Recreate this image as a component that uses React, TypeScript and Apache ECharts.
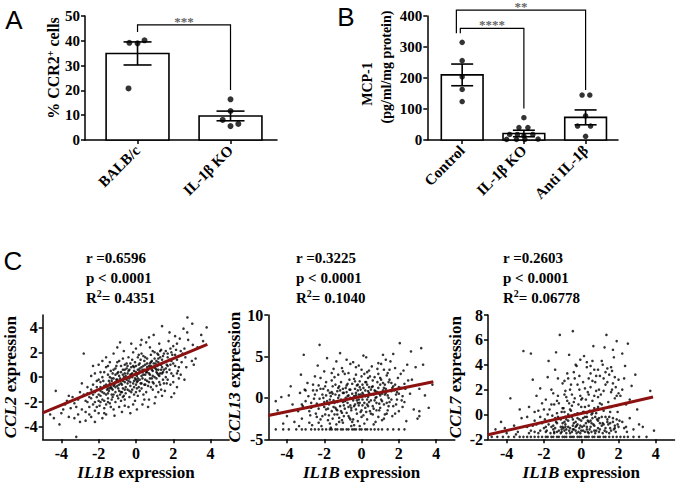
import React, { useEffect, useRef } from 'react';
import * as echarts from 'echarts';

const SERIF = 'Liberation Serif, Times New Roman, serif';
const SANS = 'Liberation Sans, Arial, sans-serif';

// ---------- Panel A ----------
const catA = ['BALB/c', 'IL-1β KO'];
const meanA = [34.9, 9.7];
const semA = [4.65, 1.95];
const dotsA = [[39.2, 39.0, 40.2, 20.8], [16.4, 11.7, 8.1, 5.6, 6.5]];
const jitterA = [[-0.088, 0, 0.075, -0.097], [0, 0, -0.084, 0, 0.084]];
const sigA = [{ from: 0, to: 1, shift: 0, top: 46.4, leftEnd: 43.5, rightEnd: 20.2, text: '***' }];

// ---------- Panel B ----------
const catB = ['Control', 'IL-1β KO', 'Anti IL-1β'];
const meanB = [210, 21, 73];
const semB = [35, 10.5, 24];
const dotsB = [
  [315, 256, 204, 163, 124],
  [72, 40, 40, 18, 18, 13, 18, 2, 2, 2, 3],
  [145, 145, 78, 45, 45, 12],
];
const jitterB = [
  [0, 0, 0, 0, 0],
  [0, -0.08, 0.065, -0.23, -0.105, 0, 0.145, -0.28, -0.12, 0.015, 0.23],
  [-0.057, 0.068, 0, -0.13, 0.08, 0],
];
const sigB = [
  { from: 0, to: 2, shift: -0.094, top: 419, leftEnd: 344, rightEnd: 161, text: '**' },
  { from: 0, to: 1, shift: -0.03, top: 360, leftEnd: 344, rightEnd: 102, text: '****' },
];

// ---------- Panel C ----------
const xTicksC = [-4, -2, 0, 2, 4];
const statsC = [
  { r: '0.6596', p: '0.0001', r2: '0.4351' },
  { r: '0.3225', p: '0.0001', r2: '0.1040' },
  { r: '0.2603', p: '0.0001', r2: '0.06778' },
];
const geneC = ['CCL2', 'CCL13', 'CCL7'];

const ccl2Points = [
  [-4.3,-1.1],[-4.4,-3.3],[-4.1,-3.8],[-3.9,-2.6],[-3.7,-1.9],[-3.6,-3.2],[-3.8,-2.2],[-4.0,-2.9],[-3.5,-2.5],[-3.6,-1.5],[-4.6,-3.0],
  [-3.2,-4.8],[-3.3,-2.1],[-3.1,-3.0],[-3.0,-1.2],[-2.9,-2.6],[-2.8,1.9],[-2.7,-3.5],[-3.4,-1.6],[-3.2,-2.4],[-2.6,-2.0],[-2.8,-1.4],[-3.0,-3.6],[-2.6,-0.8],[-2.7,-2.8],[-3.3,-3.3],[-2.9,-0.5],[-2.5,-3.0],[-3.1,-1.8],[-2.6,-1.3],[-2.5,-2.4],
  [-2.4,-1.0],[-2.3,-2.2],[-2.2,0.3],[-2.1,-1.6],[-2.0,-2.9],[-2.4,-3.2],[-1.9,-0.4],[-1.8,-1.8],[-2.2,-1.2],[-1.7,-2.5],[-1.6,0.8],[-2.3,-0.6],[-1.9,-1.1],[-2.0,-0.2],[-1.8,-3.3],[-1.6,-1.4],[-2.1,-2.4],[-1.7,-0.7],[-2.4,-1.7],[-1.5,-2.0],
  [-1.6,1.6],[-2.0,1.0],[-1.9,-2.0],[-2.2,-2.7],[-1.8,0.0],[-1.5,-0.9],[-2.3,0.9],[-1.7,-1.3],[-2.1,-0.8],[-1.6,-3.0],[-1.5,0.2],[-1.9,-1.5],[-2.0,-1.9],[-1.8,-0.9],[-1.6,-2.2],[-2.4,0.1],[-1.7,0.4],[-2.2,-3.6],[-1.5,-1.7],[-1.8,1.3],
  [-1.4,-0.5],[-1.3,-1.8],[-1.2,0.6],[-1.1,-1.2],[-1.0,-0.2],[-0.9,-2.4],[-0.8,0.9],[-0.7,-0.9],[-0.6,0.3],[-1.4,1.2],[-1.3,-0.3],[-1.2,-2.6],[-1.1,0.2],[-1.0,-1.5],[-0.9,-0.6],[-0.8,-1.9],[-0.7,1.5],[-0.6,-0.4],
  [-1.45,-1.1],[-1.35,0.5],[-1.25,-1.0],[-1.15,-3.1],[-1.05,0.9],[-0.95,-0.9],[-0.85,-0.1],[-0.75,-2.8],[-0.65,2.1],[-0.55,-1.3],[-1.4,-2.1],[-1.2,1.9],[-1.0,-0.7],[-0.8,0.4],[-0.6,-1.8],[-1.3,-1.4],[-1.1,-0.4],[-0.9,1.3],
  [-0.7,-0.3],[-0.5,0.7],[-1.2,-0.1],[-1.0,2.4],[-0.8,-1.2],[-0.6,-2.3],[-1.4,0.0],[-0.9,0.1],[-0.7,0.6],[-1.1,-2.0],[-0.55,-0.8],[-1.35,-0.8],[-0.65,-1.5],[-0.85,2.8],[-1.0,1.2],[-0.75,-0.6],[-1.25,0.3],[-0.95,-1.7],[-0.6,1.0],
  [-0.4,-0.3],[-0.3,1.1],[-0.2,-1.0],[-0.1,0.5],[0.0,-0.6],[0.1,1.6],[0.2,-0.2],[0.3,0.8],[0.4,-1.4],[-0.45,0.9],[-0.35,-1.6],[-0.25,0.2],[-0.15,2.0],[-0.05,-1.9],[0.05,0.1],[0.15,-0.8],[0.25,2.6],[0.35,-0.1],[0.45,1.3],[-0.4,-2.4],
  [-0.2,1.4],[0.0,0.9],[0.2,0.5],[0.4,0.2],[-0.3,-0.7],[-0.1,-0.3],[0.1,-1.5],[0.3,1.9],[0.45,-0.6],[-0.45,0.3],[-0.25,-1.2],[-0.05,1.2],[0.15,0.3],[0.35,-2.2],[-0.35,0.6],[-0.15,-0.5],[0.05,-2.6],[0.25,-0.5],[0.4,1.7],[-0.4,1.6],
  [-0.2,0.0],[0.0,2.3],[0.2,-1.1],[-0.3,-2.9],[-0.1,0.8],[0.1,0.6],[0.3,-0.9],[-0.45,-1.0],[0.0,-1.2],[0.2,1.1],[-0.25,2.7],[0.35,0.4],[-0.05,0.2],[0.15,1.8],[0.45,-1.8],[-0.35,-0.1],[0.1,-0.3],[0.3,3.0],[-0.15,-2.2],[0.05,-0.9],
  [0.5,0.2],[0.6,1.5],[0.7,-0.4],[0.8,0.9],[0.9,-1.0],[1.0,2.0],[1.1,0.4],[1.2,1.2],[1.3,-0.6],[1.4,0.8],[0.55,-1.2],[0.65,0.6],[0.75,2.4],[0.85,-0.1],[0.95,1.1],[1.05,-1.6],[1.15,1.9],[1.25,0.1],[1.35,2.2],[1.45,-0.2],
  [0.5,1.0],[0.7,-1.8],[0.9,0.5],[1.1,-0.7],[1.3,1.6],[0.6,-0.3],[0.8,1.8],[1.0,0.0],[1.2,-1.2],[1.4,1.4],[0.55,2.8],[0.75,0.2],[0.95,-0.5],[1.15,0.9],[1.35,-1.0],[0.65,-2.4],[0.85,1.3],[1.05,0.7],[1.25,2.7],[1.45,0.4],
  [0.6,0.4],[0.8,-0.8],[1.0,1.5],[1.2,0.6],[1.4,-1.5],[0.7,3.2],[0.9,2.1],[1.1,-0.1],[1.3,0.3],[0.5,-0.6],[1.0,-2.1],[1.2,1.8],[0.75,1.1],[1.35,1.0],[0.95,3.4],
  [1.5,0.6],[1.6,2.1],[1.7,-0.2],[1.8,1.4],[1.9,0.3],[2.0,2.5],[2.1,0.9],[2.2,-0.8],[2.3,1.7],[2.4,0.2],[1.55,-1.1],[1.65,1.0],[1.75,2.9],[1.85,-0.6],[1.95,1.8],[2.05,-1.3],[2.15,2.2],[2.25,0.5],[2.35,3.1],[2.45,1.2],
  [1.6,0.0],[1.8,3.6],[2.0,1.1],[2.2,2.7],[1.7,1.6],[1.9,-1.6],[2.1,3.3],[2.3,-0.1],[1.5,1.9],[2.4,2.1],[1.65,-0.5],[2.0,0.1],[1.85,2.3],[2.2,1.4],[1.4,4.1],
  [2.6,2.3],[2.7,0.8],[2.8,3.0],[2.76,4.8],[3.0,1.3],[3.1,1.0],[3.2,1.5],[3.02,4.3],[2.6,-0.2],[2.75,3.6],[3.3,2.4],[3.5,3.4],[3.79,4.0],[3.6,2.9],[2.65,1.6],[3.05,2.6],[2.55,3.9],
  [-2.0,-1.4],[-1.9,-0.8],[-1.8,-1.2],[-1.7,-1.9],[-1.6,-0.6],[-1.5,-1.3],[-1.4,-0.9],[-1.3,-0.1],[-1.2,-1.4],[-1.1,-0.8],[-1.0,0.3],[-0.9,-1.1],[-0.8,-0.5],[-0.7,0.2],[-0.6,-1.0],[-0.5,-0.2],[-0.4,0.5],[-0.3,-0.4],[-0.2,0.3],[-0.1,-0.8],
  [0.0,0.4],[0.1,-0.1],[0.2,0.7],[0.3,0.1],[0.4,0.9],[0.5,-0.2],[0.6,0.8],[0.7,0.3],[0.8,1.2],[0.9,0.1],[1.0,0.8],[1.1,1.3],[1.2,0.2],[1.3,1.0],[1.4,0.3],[1.5,1.2],[1.6,0.7],[1.7,1.9],[1.8,0.6],[1.9,1.3],
  [-1.95,-2.3],[-1.75,-0.3],[-1.55,-1.0],[-1.35,-2.4],[-1.15,-0.6],[-0.95,0.4],[-0.75,-1.2],[-0.55,0.1],[-0.35,-1.1],[-0.15,0.9],[0.05,-0.4],[0.25,1.4],[0.45,0.6],[0.65,-0.7],[0.85,0.6],[1.05,1.1],[1.25,-0.4],[1.45,1.7],[1.65,0.4],[1.85,1.0],
  [-1.9,0.4],[-1.7,-2.9],[-1.5,0.9],[-1.3,-0.9],[-1.1,0.7],[-0.9,-0.3],[-0.7,-1.6],[-0.5,1.1],[-0.3,0.2],[-0.1,-1.4],[0.1,0.3],[0.3,-0.5],[0.5,1.6],[0.7,0.9],[0.9,-0.4],[1.1,0.6],[1.3,2.1],[1.5,-0.5],[1.7,0.9],[1.9,2.0],
  [-2.3,-1.4],[-2.1,-0.3],[-2.5,-1.6],[-2.7,-1.9],[-2.2,-2.0],[2.1,1.8],[2.3,0.8],[2.5,1.9],[2.0,-0.4],[2.2,0.3],
  [-1.45,-0.3],[-1.25,-1.6],[-1.05,-0.2],[-0.85,-1.4],[-0.65,0.0],[-0.45,-0.5],[-0.25,0.8],[-0.05,-0.1],[0.15,1.0],[0.35,0.6],[0.55,0.4],[0.75,-0.1],[0.95,0.8],[1.15,0.3],[1.35,0.6],[-0.6,0.6],[0.0,-0.2],[0.6,1.1],[-1.2,-0.7],[1.2,1.5],
];

const ccl13Points = [
  [-4.6,-3.8],[-4.2,-3.8],[-3.9,-3.8],[-3.5,-3.8],[-3.2,-3.8],[-3.0,-3.8],[-2.7,-3.8],[-2.5,-3.8],[-2.3,-3.8],[-2.1,-3.8],[-1.9,-3.8],[-1.7,-3.8],[-1.6,-3.8],[-1.4,-3.8],[-1.3,-3.8],[-1.1,-3.8],[-1.0,-3.8],
  [-0.8,-3.8],[-0.7,-3.8],[-0.5,-3.8],[-0.4,-3.8],[-0.3,-3.8],[-0.1,-3.8],[0.0,-3.8],[0.2,-3.8],[0.3,-3.8],[0.5,-3.8],[0.7,-3.8],[0.9,-3.8],[1.1,-3.8],[1.4,-3.8],[1.7,-3.8],[2.0,-3.8],[2.3,-3.8],
  [-4.5,-1.5],[-4.3,0.1],[-4.0,-2.2],[-3.8,1.4],[-3.7,-0.8],[-3.6,-2.9],[-4.2,-3.1],[-3.9,0.3],[-4.6,-0.4],
  [-3.4,-1.6],[-3.3,0.6],[-3.2,-2.5],[-3.1,5.2],[-3.0,-0.4],[-2.9,1.8],[-2.8,-3.0],[-2.7,-1.2],[-2.6,0.9],[-2.5,2.6],[-3.35,-3.4],[-3.05,1.0],[-2.75,-2.1],[-2.55,-0.1],[-3.25,2.8],[-2.85,0.2],[-2.65,-3.3],[-3.15,-1.0],
  [-2.4,-0.7],[-2.3,1.5],[-2.2,-2.6],[-2.1,0.4],[-2.0,3.2],[-1.9,-1.4],[-1.8,0.9],[-1.7,-3.1],[-1.6,2.1],[-1.5,-0.3],[-2.45,-1.9],[-2.35,3.9],[-2.25,-0.1],[-2.15,-3.4],[-2.05,1.1],[-1.95,-2.0],[-1.85,4.8],[-1.75,-0.8],
  [-1.65,0.2],[-1.55,-2.5],[-2.4,0.9],[-2.2,2.4],[-2.0,-1.1],[-1.8,-2.7],[-1.6,-1.6],[-2.3,-3.0],[-2.1,-2.2],[-1.9,1.9],[-1.7,0.6],[-1.5,3.5],[-2.25,6.4],[-1.85,-0.4],[-1.65,-3.6],[-2.05,0.0],[-1.55,1.4],
  [-1.4,-1.2],[-1.3,0.8],[-1.2,-2.4],[-1.1,1.9],[-1.0,-0.5],[-0.9,2.9],[-0.8,-1.8],[-0.7,0.3],[-0.6,4.1],[-0.5,-2.9],[-1.45,2.5],[-1.35,-3.2],[-1.25,0.0],[-1.15,-1.0],[-1.05,3.6],[-0.95,-2.2],[-0.85,1.2],[-0.75,-0.6],
  [-0.65,2.2],[-0.55,-1.5],[-1.4,0.4],[-1.2,1.4],[-1.0,-3.0],[-0.8,0.7],[-0.6,-0.9],[-1.3,-2.0],[-1.1,-0.2],[-0.9,-1.3],[-0.7,3.0],[-0.5,0.5],[-1.35,4.4],[-1.05,-2.7],[-0.75,1.7],[-0.55,-3.4],[-1.25,2.8],[-0.95,0.6],
  [-0.65,-2.4],[-1.15,5.4],[-0.85,-0.3],[-0.6,1.0],[-1.45,-0.6],[-0.8,4.6],[-1.0,1.1],[-0.7,-1.1],[-1.3,-1.5],
  [-0.4,0.2],[-0.3,-1.4],[-0.2,1.6],[-0.1,-0.6],[0.0,2.6],[0.1,-2.1],[0.2,0.9],[0.3,-0.2],[0.4,3.3],[-0.45,-2.6],[-0.35,1.1],[-0.25,-0.3],[-0.15,3.9],[-0.05,-1.7],[0.05,0.6],[0.15,-3.1],[0.25,1.9],[0.35,-1.0],
  [0.45,0.4],[-0.4,2.3],[-0.2,-2.8],[0.0,0.1],[0.2,-1.2],[0.4,1.3],[-0.3,0.6],[-0.1,2.0],[0.1,1.2],[0.3,-2.6],[-0.45,4.3],[-0.25,-1.9],[-0.05,1.0],[0.15,2.9],[0.35,0.8],[-0.35,-0.8],[-0.15,0.4],[0.05,-0.9],
  [0.25,4.9],[0.45,-1.6],[-0.4,-3.3],[0.0,3.4],[0.2,0.2],[-0.2,0.9],[0.3,1.6],[-0.1,-3.4],[0.1,5.1],[0.4,-0.5],[-0.3,2.8],[0.05,-0.2],[0.35,2.4],[-0.15,-0.9],
  [0.5,1.0],[0.6,-1.0],[0.7,2.5],[0.8,0.1],[0.9,-2.3],[1.0,1.6],[1.1,-0.4],[1.2,3.4],[1.3,0.6],[1.4,-1.5],[0.55,3.8],[0.65,0.4],[0.75,-2.9],[0.85,1.9],[0.95,-0.7],[1.05,4.1],[1.15,0.9],[1.25,-2.0],
  [1.35,2.7],[1.45,0.0],[0.6,1.4],[0.8,-1.5],[1.0,0.3],[1.2,1.2],[1.4,3.0],[0.7,-0.3],[0.9,2.9],[1.1,-2.7],[1.3,4.6],[0.5,-1.9],[0.75,0.8],[1.05,2.2],[1.35,-0.6],[0.85,3.5],[1.15,5.2],[1.25,1.6],
  [0.65,-3.2],[0.95,0.5],[1.45,1.9],[1.0,-1.2],
  [1.5,2.2],[1.6,-0.2],[1.7,1.4],[1.8,3.6],[1.9,0.7],[2.0,-1.6],[2.1,2.9],[2.2,0.2],[2.3,1.7],[2.4,-2.8],[1.55,4.4],[1.65,-2.2],[1.75,0.9],[1.85,-0.8],[1.95,2.4],[2.05,6.6],[2.15,-0.3],[2.25,3.3],
  [2.35,1.1],[2.45,4.0],[1.6,1.8],[1.8,-1.9],[2.0,1.3],[2.2,-1.1],[1.7,5.3],
  [2.6,0.5],[2.7,2.2],[2.8,-1.4],[2.9,3.7],[3.0,-2.5],[3.1,1.1],[3.2,6.0],[3.3,4.0],[3.4,0.3],[3.6,-1.2],[3.8,1.6],[3.1,-1.6],[3.1,-2.2],[2.65,5.6],
  [-2.0,-0.5],[-1.9,0.3],[-1.8,-1.3],[-1.7,-0.2],[-1.6,0.7],[-1.5,-1.1],[-1.4,1.6],[-1.3,-0.5],[-1.2,0.3],[-1.1,-1.6],[-1.0,0.6],[-0.9,-0.4],[-0.8,1.5],[-0.7,-2.2],[-0.6,0.0],[-0.5,1.7],[-0.4,-1.0],[-0.3,0.3],[-0.2,-0.6],[-0.1,1.3],
  [0.0,-1.5],[0.1,0.4],[0.2,1.9],[0.3,-0.8],[0.4,0.6],[0.5,-0.3],[0.6,2.1],[0.7,0.9],[0.8,-0.6],[0.9,1.2],[1.0,2.4],[1.1,0.5],[1.2,-0.8],[1.3,1.1],[1.4,0.3],[1.5,-0.5],[1.6,0.8],[1.7,-1.0],[1.8,1.6],[1.9,-0.2],
  [-1.95,1.4],[-1.75,-2.1],[-1.55,0.5],[-1.35,-1.4],[-1.15,0.9],[-0.95,-0.9],[-0.75,0.2],[-0.55,-1.2],[-0.35,2.0],[-0.15,-0.2],[0.05,1.6],[0.25,-1.7],[0.45,2.6],[0.65,-1.3],[0.85,0.7],[1.05,-0.2],[1.25,0.4],[1.45,-1.0],[1.65,1.2],[1.85,0.4],
  [-2.3,-1.3],[-2.1,-0.8],[-2.5,0.4],[-2.7,-0.6],[-2.2,1.1],[-2.4,-2.3],[-2.6,1.6],[-2.8,-1.6],[-3.0,0.9],[-3.2,-0.8],
  [-1.45,-2.0],[-1.25,1.2],[-1.05,-1.8],[-0.85,0.0],[-0.65,1.0],[-0.45,-0.3],[-0.25,1.5],[-0.05,0.4],[0.15,-0.6],[0.35,0.1],[0.55,1.3],[0.75,0.0],[0.95,-1.5],[1.15,1.8],[1.35,-1.9],[-0.6,-2.6],[0.0,-2.3],[0.6,-2.0],[-1.2,-2.9],[1.2,-2.5],
  [-1.6,3.0],[-1.0,3.2],[-0.3,3.7],[0.3,3.1],[0.9,4.2],[1.5,3.4],[2.1,1.2],[2.3,-0.5],[2.5,2.1],[2.0,0.5],
];

const ccl7Points = [
  [-4.8,-1.8],[-4.5,-1.8],[-4.2,-1.8],[-3.9,-1.8],[-3.6,-1.8],[-3.3,-1.8],[-3.1,-1.8],[-2.9,-1.8],[-2.7,-1.8],[-2.5,-1.8],[-2.3,-1.8],[-2.1,-1.8],[-1.9,-1.8],[-1.8,-1.8],[-1.6,-1.8],[-1.5,-1.8],[-1.3,-1.8],
  [-1.2,-1.8],[-1.0,-1.8],[-0.9,-1.8],[-0.8,-1.8],[-0.6,-1.8],[-0.5,-1.8],[-0.4,-1.8],[-0.2,-1.8],[-0.1,-1.8],[0.0,-1.8],[0.2,-1.8],[0.3,-1.8],[0.4,-1.8],[0.6,-1.8],[0.7,-1.8],[0.9,-1.8],[1.0,-1.8],
  [1.2,-1.8],[1.3,-1.8],[1.5,-1.8],[1.7,-1.8],[1.9,-1.8],[2.1,-1.8],[2.3,-1.8],[2.5,-1.8],[2.8,-1.8],[3.1,-1.8],[3.5,-1.8],
  [-4.6,-1.2],[-4.3,-0.6],[-4.0,-1.5],[-3.8,1.3],[-3.6,-0.9],[-3.4,-1.4],[-3.3,0.4],[-3.1,5.1],[-3.2,-0.3],[-4.1,-1.1],[-3.5,-1.6],
  [-2.9,-1.0],[-2.8,0.6],[-2.7,-1.3],[-2.6,2.8],[-2.5,-0.5],[-2.4,1.5],[-2.3,-1.5],[-2.2,-0.2],[-2.1,0.9],[-2.0,-1.1],[-2.9,-0.2],[-2.7,4.9],[-2.5,-1.4],[-2.3,0.3],[-2.1,-0.7],[-2.6,-0.9],[-2.2,2.1],[-2.8,-1.5],
  [-1.95,-0.4],[-1.9,1.2],[-1.85,-1.3],[-1.8,3.0],[-1.75,-0.8],[-1.7,0.4],[-1.65,-1.5],[-1.6,2.0],[-1.55,-0.1],[-1.5,-1.2],[-1.45,0.8],[-1.4,3.6],[-1.35,-0.6],[-1.3,-1.4],[-1.25,1.5],[-1.2,-0.3],[-1.15,6.4],
  [-1.1,-1.0],[-1.05,0.2],[-1.0,2.5],[-1.9,-1.0],[-1.7,-0.5],[-1.5,1.7],[-1.3,0.1],[-1.1,-1.5],[-1.8,0.0],[-1.6,-1.0],[-1.4,-0.3],[-1.2,0.9],[-1.0,-0.7],[-1.75,4.3],[-1.45,-1.5],[-1.25,2.9],[-1.05,-1.2],[-1.35,5.0],
  [-0.95,0.5],[-0.9,-1.3],[-0.85,1.9],[-0.8,-0.4],[-0.75,3.3],[-0.7,-1.0],[-0.65,0.9],[-0.6,-1.5],[-0.55,2.4],[-0.5,-0.2],[-0.45,6.7],[-0.4,-1.2],[-0.35,1.3],[-0.3,-0.6],[-0.25,3.9],[-0.2,0.1],[-0.15,-1.4],
  [-0.1,2.0],[-0.05,-0.9],[0.0,0.6],[-0.95,-1.1],[-0.85,-0.2],[-0.75,1.1],[-0.65,-1.3],[-0.55,0.3],[-0.45,-0.9],[-0.35,2.9],[-0.25,-1.5],[-0.15,0.8],[-0.05,4.4],[-0.9,2.7],[-0.7,0.0],[-0.5,1.6],[-0.3,-1.0],
  [-0.1,-0.4],[-0.8,-1.5],[-0.6,0.4],[-0.4,3.4],[-0.2,-0.8],[0.0,-1.3],[-0.65,4.8],[-0.35,0.0],[-0.05,1.5],[-0.85,-0.8],[-0.45,-0.4],
  [0.05,-1.0],[0.1,2.6],[0.15,0.2],[0.2,-1.4],[0.25,1.2],[0.3,3.8],[0.35,-0.5],[0.4,0.7],[0.45,-1.2],[0.5,2.2],[0.55,0.0],[0.6,4.3],[0.65,-0.8],[0.7,1.5],[0.75,-1.5],[0.8,3.1],[0.85,0.4],[0.9,-1.1],
  [0.95,2.0],[1.0,0.9],[0.1,-0.3],[0.2,0.6],[0.3,-1.0],[0.4,2.9],[0.5,-0.5],[0.6,1.1],[0.7,-1.3],[0.8,0.1],[0.9,3.6],[1.0,-0.7],[0.15,4.7],[0.35,1.8],[0.55,-1.4],[0.75,2.6],[0.95,-0.3],[0.25,-0.7],
  [0.45,0.3],[0.65,5.5],[0.85,-0.4],[0.05,1.3],[0.5,3.3],[0.9,1.4],[0.3,0.1],[0.7,0.5],[0.4,-1.5],
  [1.05,1.6],[1.1,-0.9],[1.15,4.0],[1.2,0.3],[1.25,-1.3],[1.3,2.4],[1.35,6.4],[1.4,-0.4],[1.45,1.0],[1.5,3.2],[1.55,-1.1],[1.6,0.6],[1.65,2.0],[1.7,-0.6],[1.75,4.6],[1.8,1.3],[1.85,-1.4],[1.9,5.9],
  [1.95,0.2],[2.0,2.8],[1.1,0.8],[1.2,2.9],[1.3,-0.2],[1.4,3.7],[1.5,-1.5],[1.6,1.8],[1.7,5.2],[1.8,-0.9],[1.9,0.7],[1.25,5.4],[1.45,-0.8],[1.65,3.5],[1.85,2.2],[1.15,-1.5],[1.55,0.2],
  [2.05,-0.5],[2.1,1.5],[2.2,4.9],[2.3,-1.1],[2.4,0.8],[2.5,5.7],[2.6,-0.3],[2.7,2.3],[2.8,-1.2],[2.9,3.2],[3.0,0.4],[3.1,-0.8],[3.3,-1.0],[3.7,1.9],[3.9,-1.3],[2.2,2.0],[2.45,-1.4],[2.35,3.9],
  [-1.5,-0.9],[-1.4,-1.1],[-1.3,-0.7],[-1.2,-1.3],[-1.1,-0.4],[-1.0,-1.0],[-0.9,-0.6],[-0.8,-1.2],[-0.7,-0.5],[-0.6,-1.1],[-0.5,-1.4],[-0.4,-0.7],[-0.3,-1.3],[-0.2,-0.3],[-0.1,-1.1],[0.0,-0.5],[0.1,-1.3],[0.2,-0.2],
  [0.3,-1.2],[0.4,-0.6],[0.5,-1.0],[0.6,-0.3],[0.7,-0.9],[0.8,-1.3],[0.9,-0.5],[1.0,-1.2],[1.1,-0.2],[1.2,-0.8],[1.3,-1.1],[1.4,-0.6],[1.5,-0.2],[1.6,-1.3],[1.7,-0.3],[1.8,-1.1],[1.9,-0.4],[2.0,-1.0],
  [-1.45,-1.4],[-1.25,-0.2],[-1.05,-1.4],[-0.85,-1.0],[-0.65,-0.2],[-0.45,-1.2],[-0.25,-0.9],[-0.05,-1.5],[0.15,-0.9],[0.35,-1.4],[0.55,-0.7],[0.75,-0.2],[0.95,-1.4],[1.15,-0.7],[1.35,-1.4],[1.55,-0.7],[1.75,-1.2],[1.95,-0.8],
  [-1.3,1.1],[-1.0,0.5],[-0.8,1.4],[-0.6,2.0],[-0.4,1.0],[-0.2,2.4],[0.0,1.2],[0.2,2.1],[0.4,1.6],[0.6,2.7],[0.8,1.9],[1.0,3.1],[1.2,1.9],[1.4,2.6],[1.6,3.8],[1.8,3.0],[2.0,1.7],[-0.7,2.9],[-0.1,3.1],[0.5,3.9],
  [1.1,4.3],[0.3,4.2],[1.3,3.4],[-0.3,4.0],[0.7,3.6],[1.7,2.5],[-0.9,1.6],[0.1,0.2],[0.9,0.6],[-1.6,0.8],[-2.0,0.4],[-2.4,-0.8],[-2.2,-1.3],[2.2,-0.6],[2.4,-1.0],[2.6,1.2],[2.3,2.9],[-2.5,0.2],[-1.9,-1.4],[-0.5,0.7],
  [0.3,-0.2],[1.5,0.6],[-0.9,0.2],[0.6,0.1],[1.9,1.5],
];

const pointsC = [ccl2Points, ccl13Points, ccl7Points];
const fitC = [
  [[-5, -2.87], [3.83, 2.64]],
  [[-5, -2.12], [3.85, 1.95]],
  [[-5, -1.64], [3.85, 1.41]],
];
const yAxisC = [
  { min: -5, max: 5, ticks: [-4, -2, 0, 2, 4] },
  { min: -5, max: 10, ticks: [-5, 0, 5, 10] },
  { min: -2, max: 8, ticks: [-2, 0, 2, 4, 6, 8] },
];

// ---------- layout ----------
const BAR_OFFSET = 0.565;
const BAR_HALF = 0.338;

const gridsLayout = [
  { left: 85, top: 16, width: 192, height: 124 },
  { left: 427.3, top: 16, width: 190.7, height: 124 },
  { left: 42.7, top: 315, width: 186.5, height: 124.3 },
  { left: 268.3, top: 315, width: 186.5, height: 124.3 },
  { left: 488, top: 315, width: 186.5, height: 124.3 },
];
const titleLeftC = [86, 296, 503];

const axisLine = { show: true, onZero: false, lineStyle: { color: '#000', width: 1.5 } };
const axisTickBase = { show: true, length: 4, inside: false, lineStyle: { color: '#000', width: 1.5 } };
const labelBase = { color: '#000', fontFamily: SERIF, fontWeight: 'bold', fontSize: 15 };

function barSeries(g: number, means: number[], sems: number[], capPx: number) {
  return {
    type: 'custom',
    xAxisIndex: g,
    yAxisIndex: g,
    clip: false,
    z: 2,
    data: means.map((m, i) => [i + BAR_OFFSET, m, sems[i]]),
    encode: { x: 0, y: 1 },
    renderItem: (_p: any, api: any) => {
      const x = api.value(0), m = api.value(1), s = api.value(2);
      const bl = api.coord([x - BAR_HALF, 0]);
      const tr = api.coord([x + BAR_HALF, m]);
      const hi = api.coord([x, m + s]);
      const lo = api.coord([x, m - s]);
      const ls = { stroke: '#000', lineWidth: 1.6 };
      return {
        type: 'group',
        children: [
          { type: 'rect', shape: { x: bl[0], y: tr[1], width: tr[0] - bl[0], height: bl[1] - tr[1] }, style: { fill: '#fff', stroke: '#000', lineWidth: 1.6 } },
          { type: 'line', shape: { x1: hi[0], y1: hi[1], x2: lo[0], y2: lo[1] }, style: ls },
          { type: 'line', shape: { x1: hi[0] - capPx, y1: hi[1], x2: hi[0] + capPx, y2: hi[1] }, style: ls },
          { type: 'line', shape: { x1: lo[0] - capPx, y1: lo[1], x2: lo[0] + capPx, y2: lo[1] }, style: ls },
        ],
      };
    },
  };
}

function dotSeries(g: number, dots: number[][], jitter: number[][], size: number) {
  const data: number[][] = [];
  dots.forEach((vals, i) => vals.forEach((v, j) => data.push([i + BAR_OFFSET + jitter[i][j], v])));
  return { type: 'scatter', xAxisIndex: g, yAxisIndex: g, data, symbolSize: size, itemStyle: { color: '#000' }, z: 5, silent: true };
}

function bracketSeries(g: number, brackets: any[]) {
  return {
    type: 'custom',
    xAxisIndex: g,
    yAxisIndex: g,
    clip: false,
    z: 6,
    data: brackets.map((b) => [b.from + BAR_OFFSET + b.shift, b.to + BAR_OFFSET, b.top, b.leftEnd, b.rightEnd]),
    encode: { x: 0, y: 2 },
    renderItem: (p: any, api: any) => {
      const b = brackets[p.dataIndex];
      const x1 = api.value(0), x2 = api.value(1), top = api.value(2), le = api.value(3), re = api.value(4);
      const a = api.coord([x1, le]);
      const t1 = api.coord([x1, top]);
      const t2 = api.coord([x2, top]);
      const d = api.coord([x2, re]);
      return {
        type: 'group',
        children: [
          { type: 'polyline', shape: { points: [a, t1, t2, d] }, style: { stroke: '#000', lineWidth: 1.2, fill: null } },
          {
            type: 'text',
            x: (t1[0] + t2[0]) / 2,
            y: t1[1] + 3,
            style: { text: b.text, align: 'center', verticalAlign: 'bottom', textAlign: 'center', textVerticalAlign: 'bottom', fill: '#666', font: `bold 13px ${SERIF}` },
          },
        ],
      };
    },
  };
}

function gText(text: string, x: number, y: number, size: number, opts: any = {}) {
  return {
    type: 'text',
    x,
    y,
    rotation: opts.rotation || 0,
    style: {
      text,
      fill: '#000',
      font: `${opts.weight || 'bold'} ${size}px ${opts.family || SERIF}`,
      align: opts.align || 'center',
      verticalAlign: opts.vAlign || 'middle',
      textAlign: opts.align || 'center',
      textVerticalAlign: opts.vAlign || 'middle',
      lineHeight: opts.lineHeight,
      rich: opts.rich,
    },
  };
}

export default function App() {
  const ref = useRef<HTMLDivElement>(null);
  useEffect(() => {
    document.body.style.margin = '0';
    const chart = echarts.init(ref.current!, null, { renderer: 'svg' });

    const catAxisX = (g: number, cats: string[], max: number) => {
      const vals = cats.map((_, i) => i + BAR_OFFSET);
      return {
        gridIndex: g,
        type: 'value',
        min: 0,
        max,
        axisLine,
        splitLine: { show: false },
        axisTick: { ...axisTickBase, customValues: vals },
        axisLabel: {
          ...labelBase,
          customValues: vals,
          rotate: 45,
          margin: 8,
          formatter: (v: number) => cats[Math.round(v - BAR_OFFSET)] ?? '',
        },
      };
    };

    const xAxis: any[] = [
      catAxisX(0, catA, 2.065),
      catAxisX(1, catB, 3.09),
    ];
    const yAxis: any[] = [
      { gridIndex: 0, type: 'value', min: 0, max: 50, interval: 10, axisLine, axisTick: axisTickBase, splitLine: { show: false }, axisLabel: { ...labelBase, margin: 5 } },
      { gridIndex: 1, type: 'value', min: 0, max: 400, interval: 100, axisLine, axisTick: axisTickBase, splitLine: { show: false }, axisLabel: { ...labelBase, margin: 5 } },
    ];

    const nameStyle = {
      color: '#000',
      fontFamily: SERIF,
      fontWeight: 'bold',
      fontSize: 17,
      rich: { i: { fontStyle: 'italic', fontWeight: 'bold', fontFamily: SERIF, fontSize: 17, color: '#000' } },
    };

    const series: any[] = [
      barSeries(0, meanA, semA, 14),
      dotSeries(0, dotsA, jitterA, 6),
      bracketSeries(0, sigA),
      barSeries(1, meanB, semB, 11),
      dotSeries(1, dotsB, jitterB, 5.5),
      bracketSeries(1, sigB),
    ];

    for (let k = 0; k < 3; k++) {
      const g = k + 2;
      xAxis.push({
        gridIndex: g,
        type: 'value',
        min: -5,
        max: 5,
        axisLine,
        splitLine: { show: false },
        axisTick: { ...axisTickBase, customValues: xTicksC },
        axisLabel: { ...labelBase, fontSize: 16, customValues: xTicksC, margin: 6 },
        name: '{i|IL1B} expression',
        nameLocation: 'middle',
        nameGap: 25,
        nameTextStyle: nameStyle,
      });
      const ya = yAxisC[k];
      yAxis.push({
        gridIndex: g,
        type: 'value',
        min: ya.min,
        max: ya.max,
        axisLine,
        splitLine: { show: false },
        axisTick: { ...axisTickBase, customValues: ya.ticks },
        axisLabel: { ...labelBase, fontSize: 16, customValues: ya.ticks, margin: 5 },
        name: `{i|${geneC[k]}} expression`,
        nameLocation: 'middle',
        nameGap: 24,
        nameTextStyle: nameStyle,
      });
      series.push({
        type: 'scatter',
        xAxisIndex: g,
        yAxisIndex: g,
        data: pointsC[k],
        symbolSize: 2.6,
        itemStyle: { color: '#000' },
        silent: true,
        z: 2,
      });
      series.push({
        type: 'line',
        xAxisIndex: g,
        yAxisIndex: g,
        data: fitC[k],
        symbol: 'none',
        lineStyle: { color: '#8c1111', width: 3 },
        z: 4,
        silent: true,
      });
    }

    const supRich = {
      sup: { fontSize: 10, fontWeight: 'bold', fontFamily: SERIF, verticalAlign: 'top', lineHeight: 14, fill: '#000', color: '#000' },
    };

    const graphic: any[] = [
      gText('A', 14, 20, 26, { weight: 'normal', family: SANS }),
      gText('B', 346, 17, 26, { weight: 'normal', family: SANS }),
      gText('C', 13, 261, 26, { weight: 'normal', family: SANS }),
      gText('% CCR2{sup|+} cells', 53.5, 68, 16, { rotation: Math.PI / 2, rich: supRich }),
      gText('MCP-1', 367.5, 84, 14, { rotation: Math.PI / 2 }),
      gText('(pg/ml/mg protein)', 386.5, 67, 14, { rotation: Math.PI / 2 }),
    ];
    statsC.forEach((s, k) => {
      graphic.push(gText(`r =${s.r}\np < ${s.p}\nR{sup|2}= ${s.r2}`, titleLeftC[k], 248, 15, {
        align: 'left', vAlign: 'top', lineHeight: 20, rich: supRich,
      }));
    });

    chart.setOption({
      animation: false,
      backgroundColor: '#fff',
      grid: gridsLayout.map((g) => ({ ...g, containLabel: false })),
      xAxis,
      yAxis,
      series,
      graphic,
    });
    return () => chart.dispose();
  }, []);
  return <div ref={ref} style={{ width: 677, height: 486 }} />;
}
